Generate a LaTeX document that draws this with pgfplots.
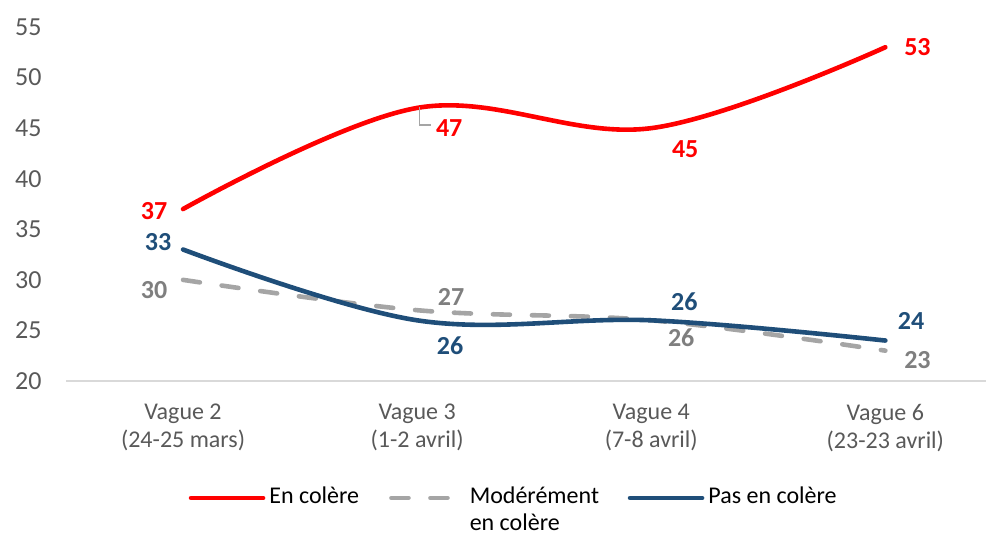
\documentclass[border=0pt]{standalone}
\usepackage{fontspec}
\setmainfont{Carlito}
\usepackage{pgfplots}
\pgfplotsset{compat=1.18}
\definecolor{cred}{RGB}{255,0,0}
\definecolor{cblue}{RGB}{31,78,121}
\definecolor{cgrayline}{RGB}{165,165,165}
\definecolor{cgraytxt}{RGB}{127,127,127}
\definecolor{ctick}{RGB}{89,89,89}
\definecolor{caxis}{RGB}{217,217,217}
\begin{document}
\begin{tikzpicture}
\useasboundingbox (-33pt,-77pt) rectangle (461.5pt,190.5pt);
\begin{axis}[
  at={(0pt,0pt)}, anchor=south west,
  scale only axis, width=460pt, height=177pt,
  xmin=-0.5, xmax=3.43, ymin=20, ymax=55,
  axis x line*=bottom, axis y line=none,
  x axis line style={draw=caxis, line width=0.8pt, -},
  xtick={0,1,2,3},
  xticklabels={{Vague 2\\(24-25 mars)},{Vague 3\\(1-2 avril)},{Vague 4\\(7-8 avril)},{Vague 6\\(23-23 avril)}},
  xticklabel style={align=center, font=\fontsize{12}{14}\selectfont, text=ctick, yshift=-8pt},
  major tick length=0pt,
  clip=false,
  legend columns=3,
  legend cell align=left,
  legend style={at={(0.133,-0.297)}, anchor=north west, draw=none, fill=none,
    font=\fontsize{12}{13.5}\selectfont, inner sep=0pt,
    /tikz/every even column/.append style={column sep=13pt},
    nodes={inner xsep=2pt, inner ysep=0pt, anchor=base west}},
  legend image code/.code={\draw[#1] plot coordinates {(0pt,0.55ex) (36pt,0.55ex)};},
]
% y tick labels drawn as text
\foreach \v in {20,25,...,55} {
  \edef\tmp{\noexpand\node[anchor=east, text=ctick, font=\noexpand\fontsize{13}{15}\noexpand\selectfont, inner sep=0pt] at (axis cs:-0.5,\v) [xshift=-12pt] {\v};}
  \tmp
}
\addplot[cred, line width=2.3pt, smooth, tension=0.6, line cap=round] coordinates {(0,37) (1,47) (2,45) (3,53)};
\addlegendentry{En colère}
\addplot[cgrayline, line width=2.3pt, smooth, tension=0.6, line cap=round, dash pattern=on 8.5pt off 11pt] coordinates {(0,30) (1,27) (2,26) (3,23)};
\addlegendentry{\parbox[t]{64pt}{Modérément\\en colère}}
\addplot[cblue, line width=2.3pt, smooth, tension=0.6, line cap=round] coordinates {(0,33) (1,26) (2,26) (3,24)};
\addlegendentry{Pas en colère}
% data labels
\begin{scope}[every node/.style={font=\bfseries\fontsize{13}{15}\selectfont, inner sep=0pt}]
\node[text=cred] at (axis cs:-0.124,36.8) {37};
\node[text=cred] at (axis cs:1.137,45.0) {47};
\node[text=cred] at (axis cs:2.145,42.9) {45};
\node[text=cred] at (axis cs:3.137,53.0) {53};
\node[text=cblue] at (axis cs:-0.107,33.7) {33};
\node[text=cblue] at (axis cs:1.141,23.5) {26};
\node[text=cblue] at (axis cs:2.141,27.8) {26};
\node[text=cblue] at (axis cs:3.11,25.9) {24};
\node[text=cgraytxt] at (axis cs:-0.124,29.0) {30};
\node[text=cgraytxt] at (axis cs:1.145,28.3) {27};
\node[text=cgraytxt] at (axis cs:2.128,24.25) {26};
\node[text=cgraytxt] at (axis cs:3.137,22.1) {23};
\end{scope}
\draw[cgrayline, line width=0.6pt] (axis cs:1.009,47.09) -- (axis cs:1.009,45.31) -- (axis cs:1.06,45.31);
\end{axis}
\end{tikzpicture}
\end{document}
